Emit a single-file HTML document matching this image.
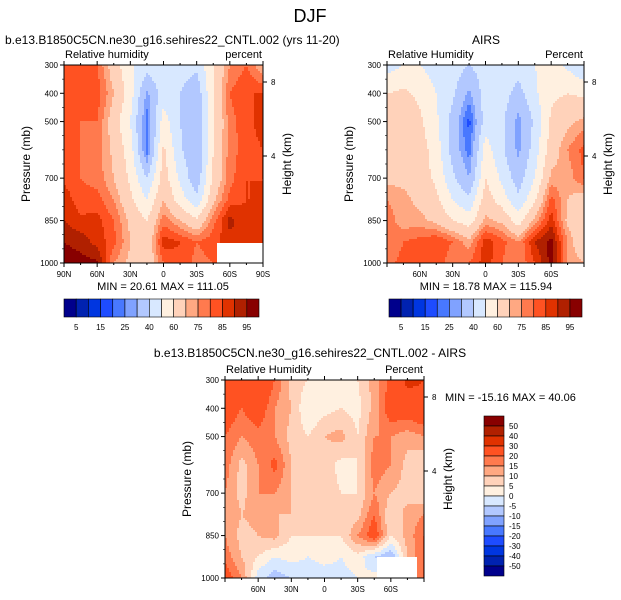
<!DOCTYPE html>
<html><head><meta charset="utf-8"><style>
body{margin:0;background:#fff;}
svg{display:block;font-family:"Liberation Sans",sans-serif;}
</style></head><body>
<svg id="fig" width="621" height="600" viewBox="0 0 621 600">
<text x="310" y="22" font-size="18" text-anchor="middle">DJF</text>
<text x="5" y="44" font-size="12">b.e13.B1850C5CN.ne30_g16.sehires22_CNTL.002 (yrs 11-20)</text>
<text x="486" y="44" font-size="12" text-anchor="middle">AIRS</text>
<text x="310" y="357" font-size="12" text-anchor="middle">b.e13.B1850C5CN.ne30_g16.sehires22_CNTL.002 - AIRS</text>
<g id="layer"></g>
</svg>
<script>
// ---- data ----
const lats = [90,75,60,45,30,15,0,-15,-30,-45,-60,-75,-90];
const plevs = [300,400,500,600,700,775,850,925,1000];
const rhLevels = [5,10,15,20,25,30,40,50,60,70,75,80,85,90,95];
const diffLevels = [-50,-40,-30,-20,-15,-10,-5,0,5,10,15,20,30,40,50];
const rhTickLabels = ["5","15","25","40","60","75","85","95"];
const diffTickLabels = ["50","40","30","20","15","10","5","0","-5","-10","-15","-20","-30","-40","-50"];
const palette = ["#00008c","#0022b0","#0036e0","#1e4cff","#4878ff","#80a2ff","#b2c8ff","#d8e8ff","#fff0e0","#ffd2ba","#ffa882","#ff7a4e","#ff5222","#e03200","#b02000","#880000"];
const modelRH = [
 [80,80,80,65,52,45,50,45,42,60,75,80,70],
 [85,83,83,70,55,28,45,40,33,60,80,85,85],
 [82,80,80,65,50,22,55,40,30,58,78,83,88],
 [82,80,78,68,55,22,62,42,30,60,78,82,85],
 [84,80,78,70,58,40,65,48,33,62,78,85,85],
 [88,82,82,75,62,50,70,55,42,68,82,85,85],
 [90,86,87,80,68,60,78,70,62,78,92,86,85],
 [95,93,88,82,70,62,88,85,80,83,88,86,85],
 [98,97,96,75,68,62,80,84,78,80,85,85,85]];
const airsRH = [
 [45,50,50,45,45,40,45,48,45,50,55,48,40],
 [60,62,58,50,42,28,45,45,36,48,58,60,58],
 [62,65,62,52,36,18,45,42,27,42,62,68,72],
 [65,68,65,55,36,22,55,42,28,45,65,75,82],
 [68,68,65,58,42,30,60,48,35,50,72,72,80],
 [75,72,68,62,50,42,65,55,42,58,82,70,65],
 [78,72,72,68,60,55,72,68,55,72,88,68,62],
 [75,80,82,85,80,72,88,82,75,90,97,75,60],
 [78,82,80,85,75,80,88,80,75,85,97,75,70]];
const diffRH = [
 [30,28,30,20,8,5,5,3,5,12,22,32,30],
 [25,20,25,15,10,0,3,5,3,12,25,25,28],
 [20,15,18,15,8,5,10,12,5,15,15,12,15],
 [18,8,15,22,10,5,8,3,5,18,15,8,5],
 [15,8,15,15,10,8,8,5,5,15,10,8,5],
 [15,10,12,10,10,8,5,5,8,20,5,12,15],
 [15,8,10,12,5,5,5,5,15,25,5,12,20],
 [18,10,5,0,2,0,2,0,3,-5,-10,10,20],
 [25,15,-3,-8,-5,-3,-3,-2,0,2,0,15,20]];
const minmax1 = "MIN =  20.61  MAX = 111.05";
const minmax2 = "MIN =  18.78  MAX = 115.94";
const minmax3 = "MIN = -15.16  MAX = 40.06";

// ---- drawing ----
const NS="http://www.w3.org/2000/svg";
const layer=document.getElementById('layer');
function mk(tag,attrs,parent){const e=document.createElementNS(NS,tag);for(const k in attrs)e.setAttribute(k,attrs[k]);(parent||layer).appendChild(e);return e;}
function txt(x,y,s,size,anchor,parent,rot){const e=mk('text',{x:x,y:y,'font-size':size,'text-anchor':anchor||'start'},parent);if(rot)e.setAttribute('transform','rotate(-90 '+x+' '+y+')');e.textContent=s;return e;}
function colorFor(v,levels){let i=0;while(i<levels.length&&v>=levels[i])i++;return palette[i];}
function sample(grid,lat,p){
  let j=0;while(j<lats.length-2&&lat<lats[j+1])j++;
  let tj=(lats[j]-lat)/(lats[j]-lats[j+1]);tj=Math.max(0,Math.min(1,tj));
  let i=0;while(i<plevs.length-2&&p>plevs[i+1])i++;
  let ti=(p-plevs[i])/(plevs[i+1]-plevs[i]);ti=Math.max(0,Math.min(1,ti));
  const a=grid[i][j]*(1-tj)+grid[i][j+1]*tj, b=grid[i+1][j]*(1-tj)+grid[i+1][j+1]*tj;
  return a*(1-ti)+b*ti;
}
function panel(o){
  const g=mk('g',{});
  
  
  const W=o.x1-o.x0,H=o.y1-o.y0;
  const xs=lat=>o.x0+(90-lat)/180*W;
  const ys=p=>o.y0+(p-300)/700*H;
  const cg=mk('g',{},g);
  
  
  const c=2;
  for(let py=o.y0;py<o.y1;py+=c){
    const p=300+(py+c/2-o.y0)/H*700;
    let runStart=o.x0,runCol=null;
    for(let px=o.x0;;px+=c){
      const done=px>=o.x1;
      let col=null;
      if(!done){const lat=90-(Math.min(px+c/2,o.x1)-o.x0)/W*180;col=colorFor(sample(o.data,lat,p),o.levels);}
      if(col!==runCol){
        if(runCol!==null){const r=mk('rect',{x:runStart,y:py,width:Math.min(px,o.x1)-runStart+0.3,height:Math.min(c,o.y1-py)+0.3,fill:runCol},cg);
          
          }
        runStart=px;runCol=col;
      }
      if(done)break;
    }
  }
  const m=mk('rect',{x:o.mask[0],y:o.mask[1],width:o.mask[2],height:o.mask[3],fill:'#fff'},g);
  
  
  const fr=mk('rect',{x:o.x0,y:o.y0,width:W,height:H,fill:'none',stroke:'#000','stroke-width':1},g);
  
  
  [300,400,500,700,850,1000].forEach(p=>{
    mk('line',{x1:o.x0-4,x2:o.x0,y1:ys(p),y2:ys(p),stroke:'#000'},g);
    const t=txt(o.x0-6,ys(p)+3,String(p),8,'end',g);
    
    
  });
  [600,650,750,800,900,950,350,450,550].forEach(p=>mk('line',{x1:o.x0-2,x2:o.x0,y1:ys(p),y2:ys(p),stroke:'#000','stroke-width':0.6},g));
  const yt=txt(o.x0-34,o.y0+H/2,'Pressure (mb)',12,'middle',g,true);
  
  
  [[8,o.y0+17],[4,o.y0+91]].forEach(h=>{
    mk('line',{x1:o.x1,x2:o.x1+4,y1:h[1],y2:h[1],stroke:'#000'},g);
    const t=txt(o.x1+8,h[1]+3,String(h[0]),8,'start',g);
    
    
  });
  const ht=txt(o.x1+28,o.y0+H/2,'Height (km)',12,'middle',g,true);
  
  
  for(let lat=90;lat>=-90;lat-=15){
    const big=lat%30===0;
    mk('line',{x1:xs(lat),x2:xs(lat),y1:o.y1,y2:o.y1+(big?4:2),stroke:'#000'},g);
    mk('line',{x1:xs(lat),x2:xs(lat),y1:o.y0,y2:o.y0-(big?4:2),stroke:'#000'},g);
  }
  o.xlabels.forEach(lat=>{
    const s=lat===0?'0':Math.abs(lat)+(lat>0?'N':'S');
    const t=txt(xs(lat),o.y1+14,s,8,'middle',g);
    
    
  });
  const l1=txt(o.x0+1,o.y0-7,o.left,11,'start',g);
  
  
  const l2=txt(o.x1-1,o.y0-7,o.right,11,'end',g);
  
  
  const mm=txt(o.mmx,o.mmy,o.minmax,11,o.mmAnchor,g);
  
  
}
function hbar(x0,x1,y0,y1,labels){
  const g=mk('g',{});
  
  
  const w=(x1-x0)/16;
  palette.forEach((col,i)=>{
    const r=mk('rect',{x:x0+i*w,y:y0,width:w,height:y1-y0,fill:col,stroke:'#000','stroke-width':0.6},g);
    
    
  });
  labels.forEach((s,k)=>{
    const t=txt(x0+(2*k+1)*w,y1+13,s,8,'middle',g);
    
    
  });
}
function vbar(x0,x1,y0,y1,labels){
  const g=mk('g',{});
  
  
  const h=(y1-y0)/16;
  palette.slice().reverse().forEach((col,i)=>{
    const r=mk('rect',{x:x0,y:y0+i*h,width:x1-x0,height:h,fill:col,stroke:'#000','stroke-width':0.6},g);
    
    
  });
  labels.forEach((s,k)=>{
    const t=txt(x1+5,y0+(k+1)*h+3,s,8,'start',g);
    
    
  });
}
const all=[90,60,30,0,-30,-60,-90], inner=[60,30,0,-30,-60];
panel({name:'model-rh-panel',x0:64,x1:263,y0:65,y1:263,data:modelRH,levels:rhLevels,xlabels:all,left:'Relative humidity',right:'percent',minmax:minmax1,mmx:163,mmy:290,mmAnchor:'middle',mask:[217,243,46,20]});
panel({name:'airs-rh-panel',x0:387,x1:584,y0:65,y1:263,data:airsRH,levels:rhLevels,xlabels:inner,left:'Relative Humidity',right:'Percent',minmax:minmax2,mmx:486,mmy:290,mmAnchor:'middle',mask:[0,0,0,0]});
panel({name:'diff-rh-panel',x0:225,x1:424,y0:380,y1:578,data:diffRH,levels:diffLevels,xlabels:inner,left:'Relative Humidity',right:'Percent',minmax:minmax3,mmx:445,mmy:401,mmAnchor:'start',mask:[377,557,40,21]});
hbar(64,259,299,317,rhTickLabels);
hbar(389,582,299,317,rhTickLabels);
vbar(484,504,416,576,diffTickLabels);
</script>
</body></html>
